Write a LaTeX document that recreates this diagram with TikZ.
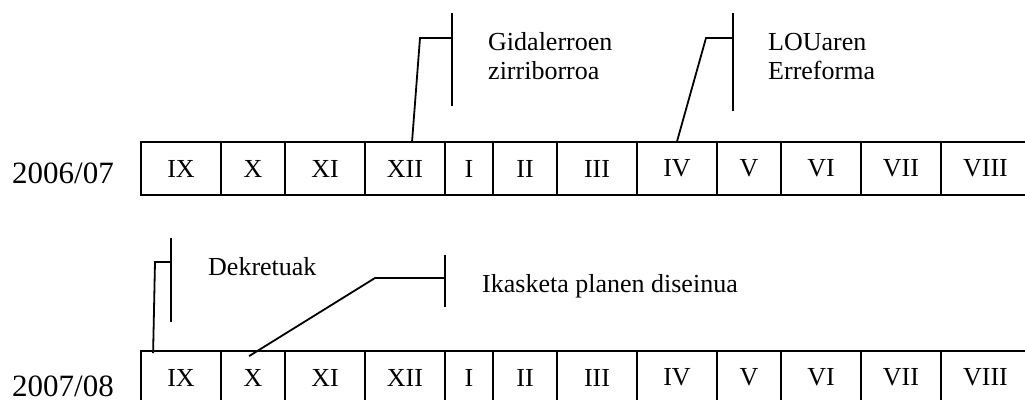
\documentclass[tikz,border=0pt]{standalone}
\usepackage{fontspec}
\setmainfont{Liberation Serif}
\usetikzlibrary{calc}
\newcommand\cellfont{\fontsize{26}{30}\selectfont}
\newcommand\yearfont{\fontsize{31}{36}\selectfont}

\begin{document}
\begin{tikzpicture}[
    x=1pt,y=-1pt,
    cell/.style={draw,line width=1.8pt,minimum height=53pt,inner sep=0pt,font=\cellfont},
    year/.style={anchor=base west,inner sep=0pt,font=\yearfont},
    note/.style={anchor=base west,inner sep=0pt,align=left,font=\fontsize{26}{28.5}\selectfont},
    lead/.style={line width=1.8pt}
  ]
    \useasboundingbox (0,0) rectangle (1025,399);
    \foreach \m/\xa/\xb in {IX/141/221,X/221/285,XI/285/365,XII/365/445,I/445/493,II/493/557,
        III/557/637,IV/637/717,V/717/781,VI/781/861,VII/861/941,VIII/941/1030}{
      \node[cell,minimum width={(\xb-\xa)*1pt}] (r1-\m) at ({(\xa+\xb)/2},168.5) {\m};
      \node[cell,minimum width={(\xb-\xa)*1pt}] (r2-\m) at ({(\xa+\xb)/2},377.5) {\m};
    }
    \node[year] (y1) at (12,183.3) {2006/07};
    \node[year] (y2) at (12,396) {2007/08};

    \node[note] (gid-txt) at (488,79) {Gidalerroen\\zirriborroa};
    \node[note] (lou-txt) at (768,79) {LOUaren\\Erreforma};
    \node[note] (dek-txt) at (208,275.7) {Dekretuak};
    \node[note] (ika-txt) at (482,292) {Ikasketa planen diseinua};

    \coordinate (gid-top) at (452,13);
    \coordinate (gid-bot) at (452,106);
    \coordinate (gid-mid) at (452,38);
    \coordinate (gid-knee) at (420,38);
    \coordinate (gid-end) at ($(r1-XII.north west)+(48,0)$);
    \draw[lead] (gid-top) -- (gid-bot);
    \draw[lead] (gid-mid) -- (gid-knee) -- (gid-end);

    \coordinate (lou-top) at (733,13);
    \coordinate (lou-bot) at (733,111);
    \coordinate (lou-mid) at (733,38);
    \coordinate (lou-knee) at (706,38);
    \coordinate (lou-end) at ($(r1-IV.north west)+(41,0)$);
    \draw[lead] (lou-top) -- (lou-bot);
    \draw[lead] (lou-mid) -- (lou-knee) -- (lou-end);

    \coordinate (dek-top) at (171,238);
    \coordinate (dek-bot) at (171,322);
    \coordinate (dek-mid) at (171,262);
    \coordinate (dek-knee) at (155,262);
    \coordinate (dek-end) at ($(r2-IX.north west)+(13,3)$);
    \draw[lead] (dek-top) -- (dek-bot);
    \draw[lead] (dek-mid) -- (dek-knee) -- (dek-end);

    \coordinate (ika-top) at (445,255);
    \coordinate (ika-bot) at (445,307);
    \coordinate (ika-mid) at (445,278);
    \coordinate (ika-knee) at (375,278);
    \coordinate (ika-end) at ($(r2-X.north west)+(29,6)$);
    \draw[lead] (ika-top) -- (ika-bot);
    \draw[lead] (ika-mid) -- (ika-knee) -- (ika-end);
\end{tikzpicture}
\end{document}
